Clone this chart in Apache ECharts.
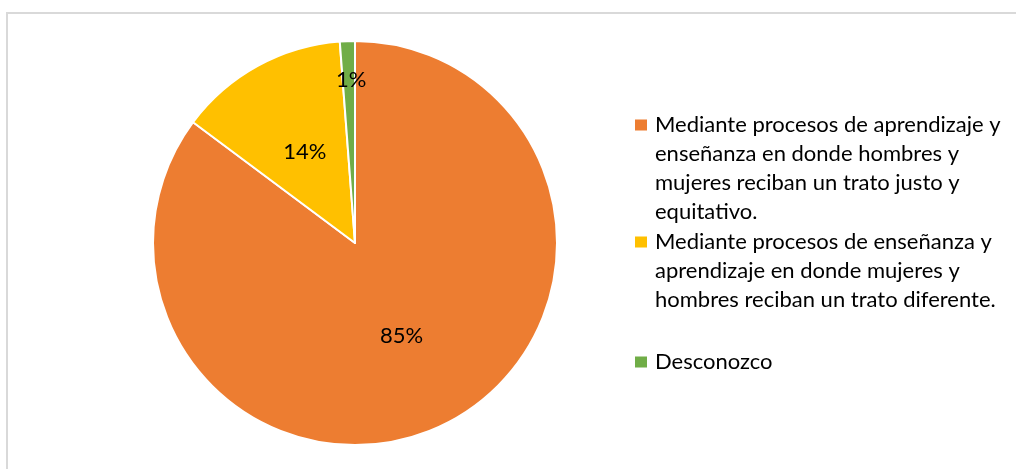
<!DOCTYPE html>
<html>
<head>
<meta charset="utf-8">
<style>
html,body{margin:0;padding:0;background:#fff;}
#c{width:1016px;height:469px;}
</style>
<script src="https://cdn.jsdelivr.net/npm/echarts@6/dist/echarts.min.js"></script>
</head>
<body>
<div id="c"></div>
<script>
const categories = [
  "Mediante procesos de aprendizaje y enseñanza en donde hombres y mujeres reciban un trato justo y equitativo.",
  "Mediante procesos de enseñanza y aprendizaje en donde mujeres y hombres reciban un trato diferente.",
  "Desconozco"
];
const legendLines = [
  ["Mediante procesos de aprendizaje y", "enseñanza en donde hombres y", "mujeres reciban un trato justo y", "equitativo."],
  ["Mediante procesos de enseñanza y", "aprendizaje en donde mujeres y", "hombres reciban un trato diferente."],
  ["Desconozco"]
];
const values = [85.2, 13.6, 1.2];
const colors = ["#ED7D31", "#FFC000", "#70AD47"];

const FONT = "Lato";
const LH = 29;
const legendTops = [110.5, 227.5, 347.5];

function iconPath(n) {
  const H = n * LH;
  return 'path://M0,0h0.05v0.05h-0.05zM0,9h12v11h-12zM0,' + (H - 0.05) + 'h0.05v0.05h-0.05z';
}

const legends = categories.map((name, i) => ({
  orient: 'vertical',
  left: 635,
  top: legendTops[i],
  padding: 0,
  data: [name],
  icon: iconPath(legendLines[i].length),
  itemWidth: 12,
  itemHeight: legendLines[i].length * LH,
  itemStyle: {borderWidth: 0},
  selectedMode: false,
  formatter: () => legendLines[i].join('\n'),
  textStyle: {
    fontFamily: FONT,
    fontSize: 22,
    color: '#000',
    lineHeight: LH,
    padding: [0, 0, 0, 3]
  }
}));

const chart = echarts.init(document.getElementById('c'), null, {renderer: 'canvas'});
chart.setOption({
  animation: false,
  backgroundColor: '#fff',
  graphic: [{
    type: 'rect',
    shape: {x: 7, y: 13, width: 1100, height: 600},
    style: {fill: 'none', stroke: '#d9d9d9', lineWidth: 2},
    silent: true
  }],
  legend: legends,
  series: [{
    type: 'pie',
    center: [355, 243],
    radius: 202,
    startAngle: 90,
    clockwise: true,
    data: categories.map((n, i) => ({name: n, value: values[i], itemStyle: {color: colors[i]}})),
    itemStyle: {borderColor: '#fff', borderWidth: 2},
    label: {
      show: true,
      position: 'inside',
      fontFamily: FONT,
      fontSize: 22,
      color: '#000',
      formatter: p => Math.round(p.percent) + '%'
    },
    labelLine: {show: false},
    labelLayout: function (p) {
      if (p.dataIndex === 2) return {dy: -59};
      return {};
    },
    emphasis: {disabled: true}
  }]
});
</script>
</body>
</html>
